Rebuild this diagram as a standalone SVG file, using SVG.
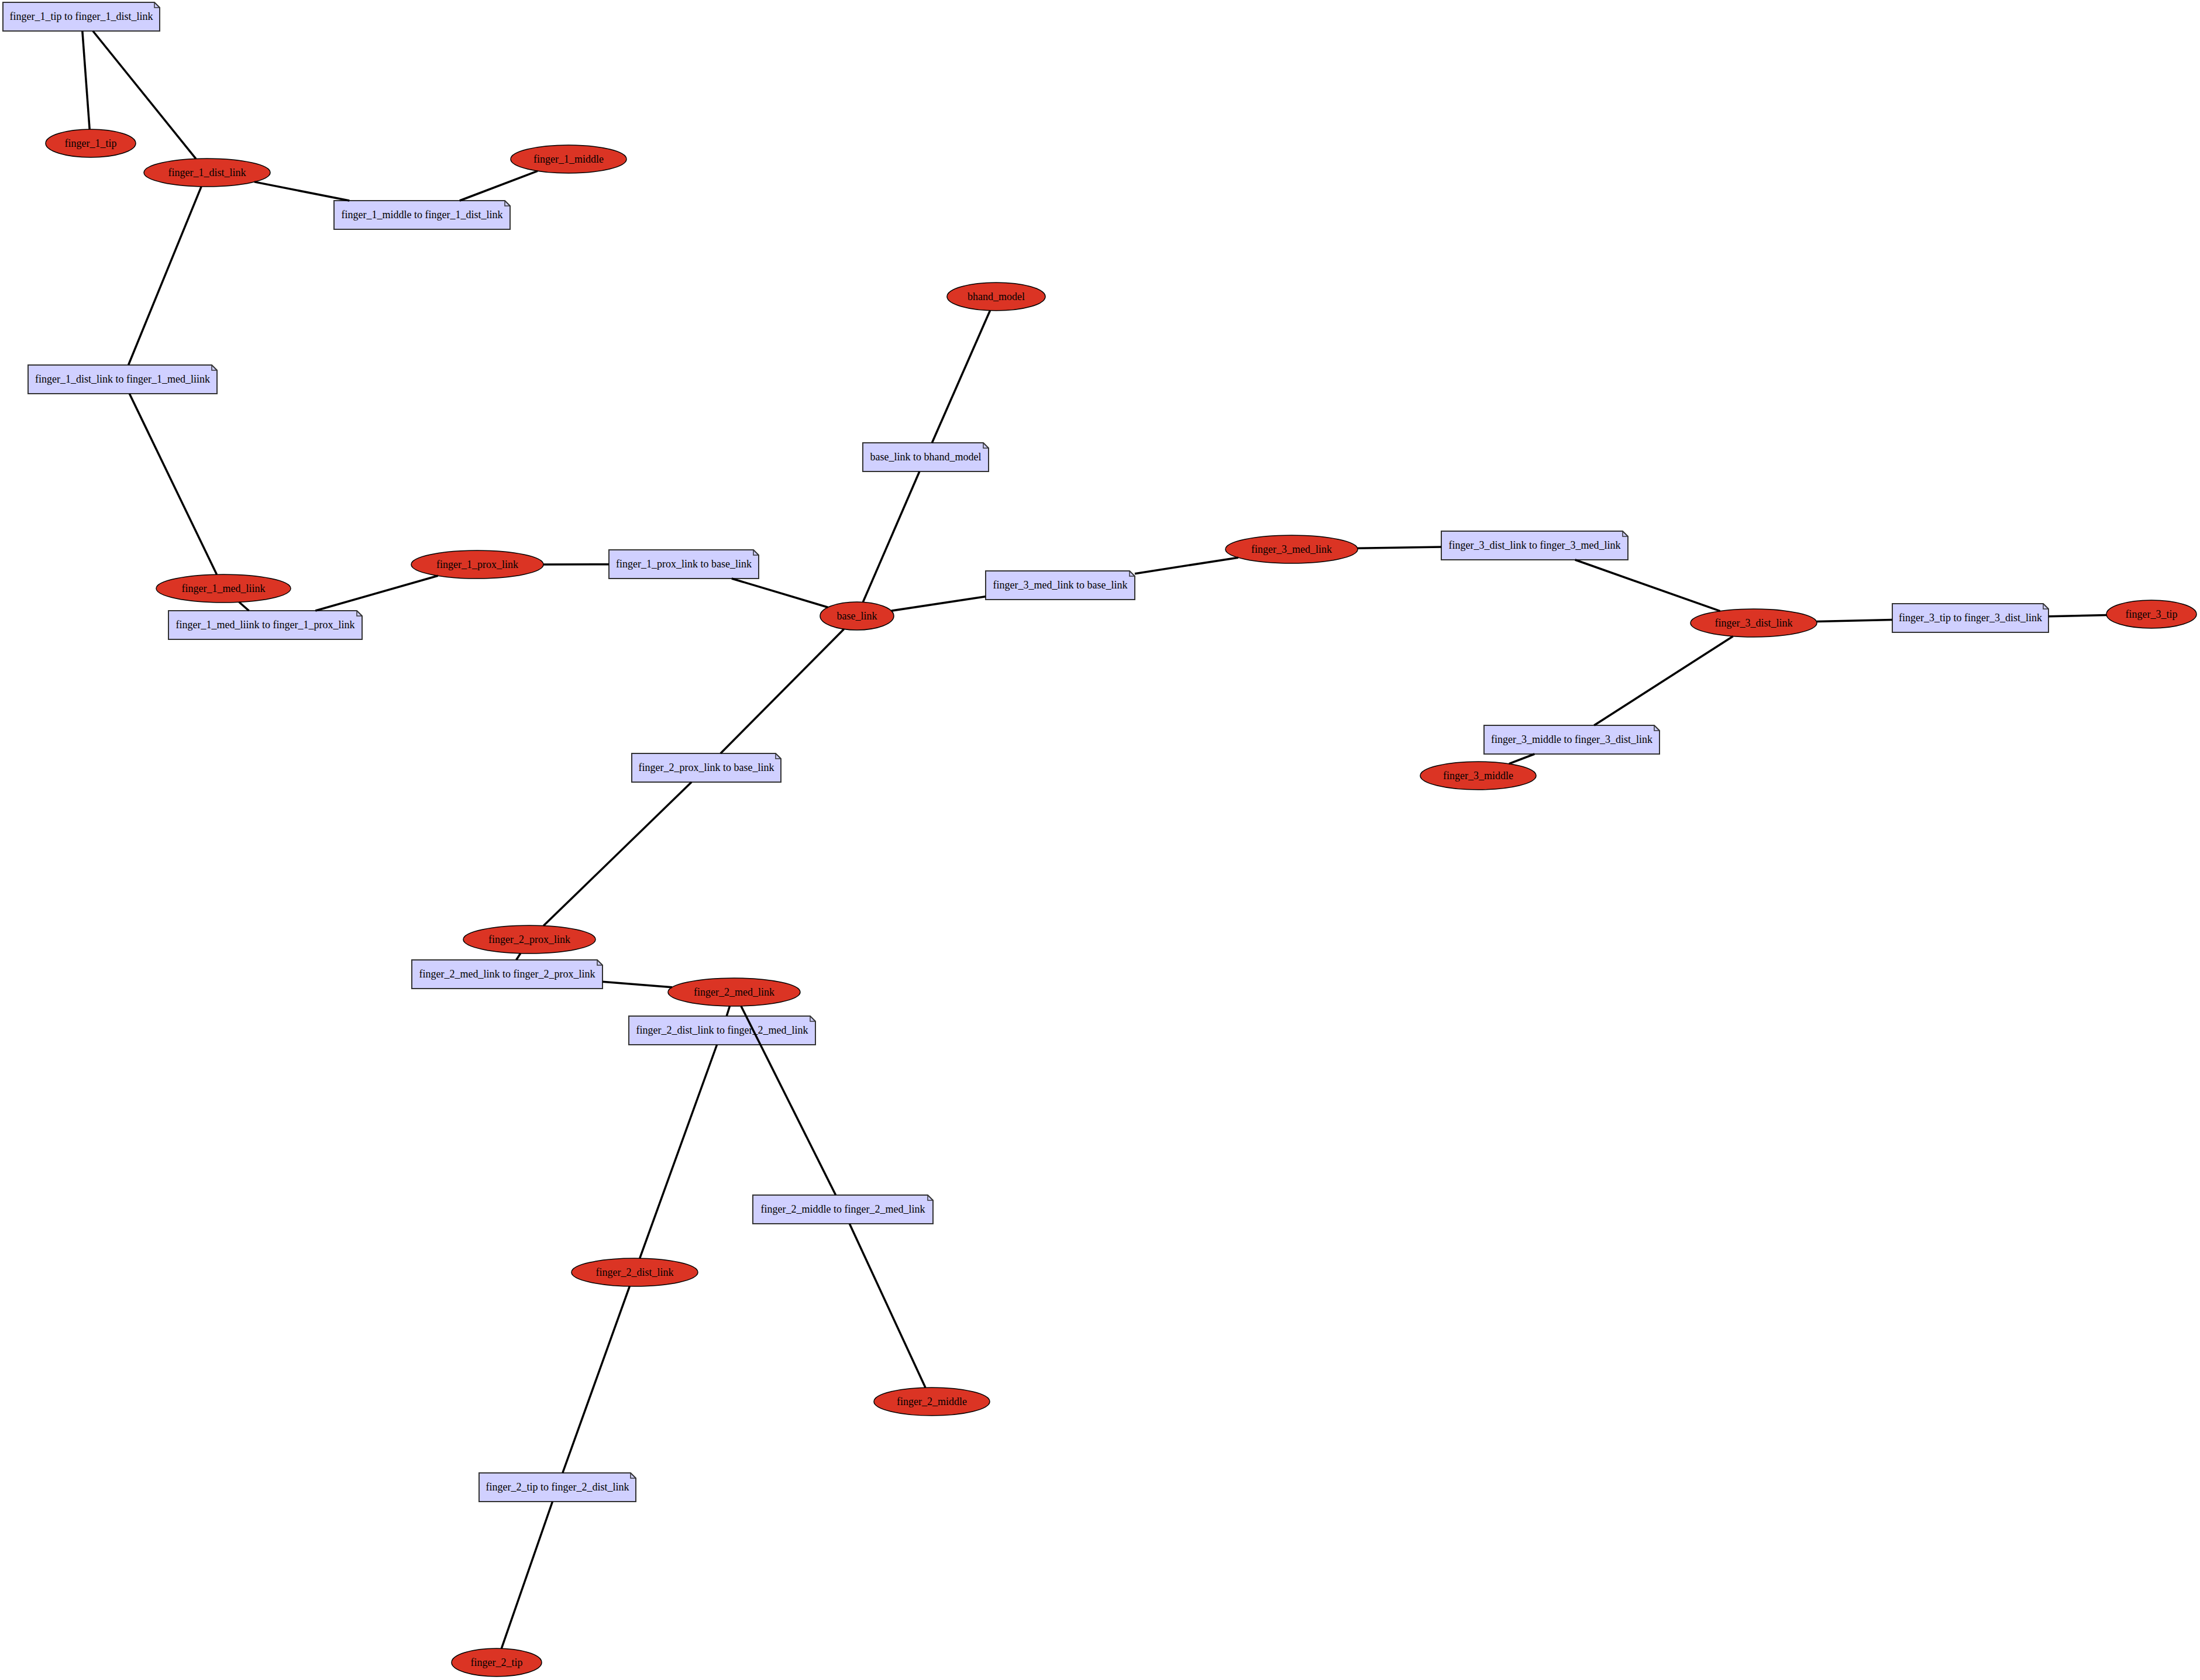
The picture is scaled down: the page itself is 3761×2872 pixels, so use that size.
<svg xmlns="http://www.w3.org/2000/svg" width="3761" height="2872" viewBox="0 0 3761 2872">
<style>
.note polygon{fill:#d0d0ff;stroke:#333;stroke-width:2}
.note path{fill:none;stroke:#333;stroke-width:1.5}
.ell ellipse{fill:#db3424;stroke:#000;stroke-width:1.5}
text{font-family:"Liberation Serif","Times New Roman",serif;font-size:18px;text-anchor:middle;fill:#000}
#connectors line{stroke:#000;stroke-width:3.5;stroke-linecap:butt}
</style>
<rect width="3761" height="2872" fill="#fff"/>
<g id="nodes">
<g id="n_finger_1_tip" class="ell"><ellipse cx="155" cy="245" rx="77" ry="24"/><text x="155" y="251">finger_1_tip</text></g>
<g id="n_finger_1_dist_link" class="ell"><ellipse cx="354" cy="295" rx="108" ry="24"/><text x="354" y="301">finger_1_dist_link</text></g>
<g id="n_finger_1_middle" class="ell"><ellipse cx="972" cy="272" rx="99" ry="24"/><text x="972" y="278">finger_1_middle</text></g>
<g id="n_finger_1_med_liink" class="ell"><ellipse cx="382" cy="1006" rx="115" ry="24"/><text x="382" y="1012">finger_1_med_liink</text></g>
<g id="n_finger_1_prox_link" class="ell"><ellipse cx="816" cy="965" rx="113" ry="24"/><text x="816" y="971">finger_1_prox_link</text></g>
<g id="n_bhand_model" class="ell"><ellipse cx="1703" cy="507" rx="84" ry="24"/><text x="1703" y="513">bhand_model</text></g>
<g id="n_base_link" class="ell"><ellipse cx="1465" cy="1053" rx="63" ry="24"/><text x="1465" y="1059">base_link</text></g>
<g id="n_finger_3_med_link" class="ell"><ellipse cx="2208" cy="939" rx="113" ry="24"/><text x="2208" y="945">finger_3_med_link</text></g>
<g id="n_finger_3_dist_link" class="ell"><ellipse cx="2998" cy="1065" rx="108" ry="24"/><text x="2998" y="1071">finger_3_dist_link</text></g>
<g id="n_finger_3_tip" class="ell"><ellipse cx="3678" cy="1050" rx="77" ry="24"/><text x="3678" y="1056">finger_3_tip</text></g>
<g id="n_finger_3_middle" class="ell"><ellipse cx="2527" cy="1326" rx="99" ry="24"/><text x="2527" y="1332">finger_3_middle</text></g>
<g id="n_finger_2_prox_link" class="ell"><ellipse cx="905" cy="1606" rx="113" ry="24"/><text x="905" y="1612">finger_2_prox_link</text></g>
<g id="n_finger_2_med_link" class="ell"><ellipse cx="1255" cy="1696" rx="113" ry="24"/><text x="1255" y="1702">finger_2_med_link</text></g>
<g id="n_finger_2_dist_link" class="ell"><ellipse cx="1085" cy="2175" rx="108" ry="24"/><text x="1085" y="2181">finger_2_dist_link</text></g>
<g id="n_finger_2_middle" class="ell"><ellipse cx="1593" cy="2396" rx="99" ry="24"/><text x="1593" y="2402">finger_2_middle</text></g>
<g id="n_finger_2_tip" class="ell"><ellipse cx="849" cy="2842" rx="77" ry="24"/><text x="849" y="2848">finger_2_tip</text></g>

<g id="j_finger_1_tip" class="note"><polygon points="5,4 264,4 273,13 273,53 5,53"/><path d="M264,4V13H273"/><text x="139" y="34">finger_1_tip to finger_1_dist_link</text></g>
<g id="j_finger_1_middle" class="note"><polygon points="571,343 863,343 872,352 872,392 571,392"/><path d="M863,343V352H872"/><text x="721.5" y="373">finger_1_middle to finger_1_dist_link</text></g>
<g id="j_finger_1_dist" class="note"><polygon points="48,624 362,624 371,633 371,673 48,673"/><path d="M362,624V633H371"/><text x="209.5" y="654">finger_1_dist_link to finger_1_med_liink</text></g>
<g id="j_finger_1_med" class="note"><polygon points="288,1044 610,1044 619,1053 619,1093 288,1093"/><path d="M610,1044V1053H619"/><text x="453.5" y="1074">finger_1_med_liink to finger_1_prox_link</text></g>
<g id="j_finger_1_prox" class="note"><polygon points="1041,940 1288,940 1297,949 1297,989 1041,989"/><path d="M1288,940V949H1297"/><text x="1169" y="970">finger_1_prox_link to base_link</text></g>
<g id="j_base" class="note"><polygon points="1475,757 1681,757 1690,766 1690,806 1475,806"/><path d="M1681,757V766H1690"/><text x="1582.5" y="787">base_link to bhand_model</text></g>
<g id="j_finger_3_med" class="note"><polygon points="1685,976 1931,976 1940,985 1940,1025 1685,1025"/><path d="M1931,976V985H1940"/><text x="1812.5" y="1006">finger_3_med_link to base_link</text></g>
<g id="j_finger_3_dist" class="note"><polygon points="2464,908 2774,908 2783,917 2783,957 2464,957"/><path d="M2774,908V917H2783"/><text x="2623.5" y="938">finger_3_dist_link to finger_3_med_link</text></g>
<g id="j_finger_3_tip" class="note"><polygon points="3235,1032 3493,1032 3502,1041 3502,1081 3235,1081"/><path d="M3493,1032V1041H3502"/><text x="3368.5" y="1062">finger_3_tip to finger_3_dist_link</text></g>
<g id="j_finger_3_middle" class="note"><polygon points="2537,1240 2828,1240 2837,1249 2837,1289 2537,1289"/><path d="M2828,1240V1249H2837"/><text x="2687" y="1270">finger_3_middle to finger_3_dist_link</text></g>
<g id="j_finger_2_prox" class="note"><polygon points="1080,1288 1326,1288 1335,1297 1335,1337 1080,1337"/><path d="M1326,1288V1297H1335"/><text x="1207.5" y="1318">finger_2_prox_link to base_link</text></g>
<g id="j_finger_2_med" class="note"><polygon points="704,1641 1021,1641 1030,1650 1030,1690 704,1690"/><path d="M1021,1641V1650H1030"/><text x="867" y="1671">finger_2_med_link to finger_2_prox_link</text></g>
<g id="j_finger_2_dist" class="note"><polygon points="1075,1737 1385,1737 1394,1746 1394,1786 1075,1786"/><path d="M1385,1737V1746H1394"/><text x="1234.5" y="1767">finger_2_dist_link to finger_2_med_link</text></g>
<g id="j_finger_2_middle" class="note"><polygon points="1287,2043 1586,2043 1595,2052 1595,2092 1287,2092"/><path d="M1586,2043V2052H1595"/><text x="1441" y="2073">finger_2_middle to finger_2_med_link</text></g>
<g id="j_finger_2_tip" class="note"><polygon points="819,2518 1078,2518 1087,2527 1087,2567 819,2567"/><path d="M1078,2518V2527H1087"/><text x="953" y="2548">finger_2_tip to finger_2_dist_link</text></g>
</g>
<g id="connectors">
<line x1="140.8" y1="53" x2="153.2" y2="221"/>
<line x1="158.8" y1="53" x2="334.9" y2="271.4"/>
<line x1="597.3" y1="343" x2="434.8" y2="310.9"/>
<line x1="785.8" y1="343" x2="918.9" y2="292.3"/>
<line x1="219.5" y1="624" x2="344.2" y2="318.9"/>
<line x1="221.3" y1="673" x2="370.5" y2="982.1"/>
<line x1="425.5" y1="1044" x2="408.7" y2="1029.3"/>
<line x1="539.3" y1="1044" x2="748.6" y2="984.3"/>
<line x1="1041" y1="964.7" x2="929" y2="965"/>
<line x1="1250.9" y1="989" x2="1415.4" y2="1038.2"/>
<line x1="1571.9" y1="806" x2="1475.3" y2="1029.3"/>
<line x1="1593.3" y1="757" x2="1692.6" y2="530.8"/>
<line x1="1685" y1="1019.8" x2="1523.6" y2="1044.2"/>
<line x1="1940" y1="980.7" x2="2116.8" y2="953.2"/>
<line x1="2464" y1="935" x2="2320.7" y2="937.2"/>
<line x1="2692.7" y1="957" x2="2940.6" y2="1044.7"/>
<line x1="3235" y1="1059.6" x2="3105.4" y2="1062.5"/>
<line x1="3502" y1="1053.7" x2="3601.2" y2="1051.6"/>
<line x1="2725.2" y1="1240" x2="2962.6" y2="1087.7"/>
<line x1="2623.3" y1="1289" x2="2579.8" y2="1305.7"/>
<line x1="1231.8" y1="1288" x2="1442.7" y2="1075.4"/>
<line x1="1182.2" y1="1337" x2="929.2" y2="1582.6"/>
<line x1="882.6" y1="1641" x2="889.8" y2="1629.8"/>
<line x1="1030" y1="1678.3" x2="1149" y2="1687.7"/>
<line x1="1242.2" y1="1737" x2="1247.5" y2="1719.9"/>
<line x1="1225.6" y1="1786" x2="1093.7" y2="2151.1"/>
<line x1="1428.7" y1="2043" x2="1266.9" y2="1719.9"/>
<line x1="1452.3" y1="2092" x2="1582" y2="2372.1"/>
<line x1="961.8" y1="2518" x2="1076.4" y2="2198.9"/>
<line x1="944.5" y1="2567" x2="857.3" y2="2818.1"/>
</g>
</svg>
